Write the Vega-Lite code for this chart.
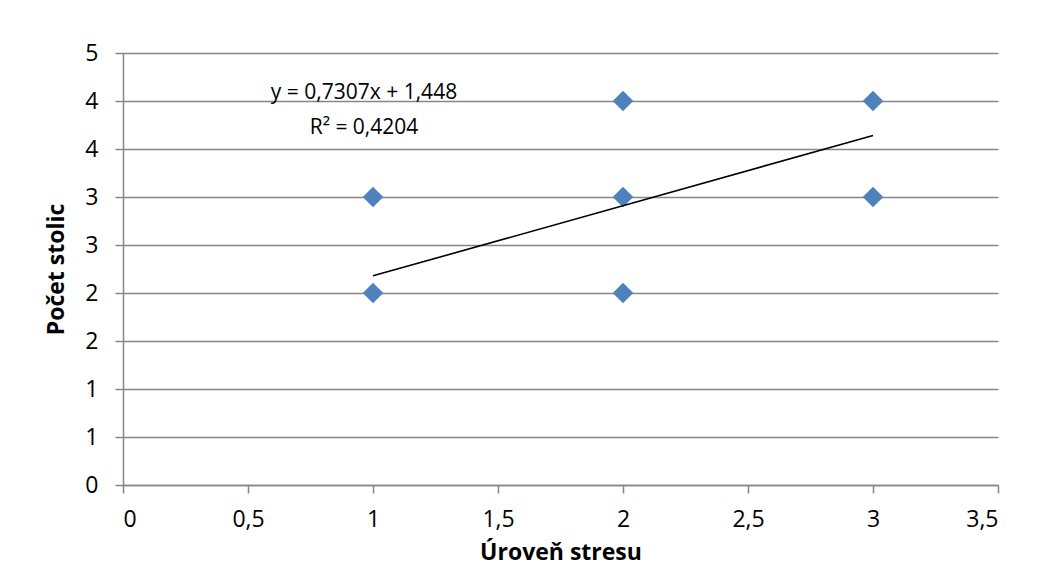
{
  "$schema": "https://vega.github.io/schema/vega-lite/v6.json",
  "width": 875,
  "height": 432,
  "autosize": "none",
  "padding": {"left": 123, "top": 53, "right": 51, "bottom": 87},
  "background": "white",
  "config": {
    "font": "Open Sans",
    "view": {"stroke": null},
    "axis": {
      "labelFont": "Open Sans",
      "labelFontSize": 23,
      "labelColor": "#000000",
      "titleFont": "Open Sans",
      "titleFontSize": 23,
      "titleFontWeight": "bold",
      "titleColor": "#000000",
      "domainColor": "#868686",
      "domainWidth": 1.5,
      "tickColor": "#868686",
      "tickWidth": 1.5,
      "tickSize": 8,
      "gridColor": "#868686",
      "gridWidth": 1.5,
      "gridOpacity": 1
    }
  },
  "datasets": {
    "points": [
      {"stres": 1, "stolice": 2},
      {"stres": 1, "stolice": 3},
      {"stres": 2, "stolice": 4},
      {"stres": 2, "stolice": 3},
      {"stres": 2, "stolice": 2},
      {"stres": 3, "stolice": 4},
      {"stres": 3, "stolice": 3}
    ],
    "trend": [
      {"stres": 1, "stolice": 2.1787},
      {"stres": 3, "stolice": 3.6401}
    ],
    "eq": [
      {"label": ["y = 0,7307x + 1,448", "R² = 0,4204"]}
    ]
  },
  "layer": [
    {
      "data": {"name": "points"},
      "mark": {"type": "point", "shape": "diamond", "filled": true, "size": 420, "color": "#4F81BD", "opacity": 1, "strokeWidth": 0},
      "encoding": {
        "x": {
          "field": "stres", "type": "quantitative",
          "scale": {"domain": [0, 3.5], "nice": false, "zero": true},
          "axis": {
            "title": "Úroveň stresu",
            "values": [0, 0.5, 1, 1.5, 2, 2.5, 3, 3.5],
            "grid": false,
            "labelPadding": 15,
            "titlePadding": 10,
            "labelExpr": "replace(toString(datum.value), '.', ',')"
          }
        },
        "y": {
          "field": "stolice", "type": "quantitative",
          "scale": {"domain": [0, 4.5], "nice": false, "zero": true},
          "axis": {
            "title": "Počet stolic",
            "values": [0, 0.5, 1, 1.5, 2, 2.5, 3, 3.5, 4, 4.5],
            "grid": true,
            "labelPadding": 17,
            "titlePadding": 16,
            "labelExpr": "round(datum.value)"
          }
        }
      }
    },
    {
      "data": {"name": "trend"},
      "mark": {"type": "line", "color": "#000000", "strokeWidth": 1.6},
      "encoding": {
        "x": {"field": "stres", "type": "quantitative"},
        "y": {"field": "stolice", "type": "quantitative"}
      }
    },
    {
      "data": {"name": "eq"},
      "mark": {"type": "text", "font": "Open Sans", "fontSize": 21, "color": "#000000", "align": "center", "baseline": "middle", "lineHeight": 35},
      "encoding": {
        "x": {"datum": 0.964},
        "y": {"datum": 4.083},
        "text": {"field": "label"}
      }
    }
  ]
}
